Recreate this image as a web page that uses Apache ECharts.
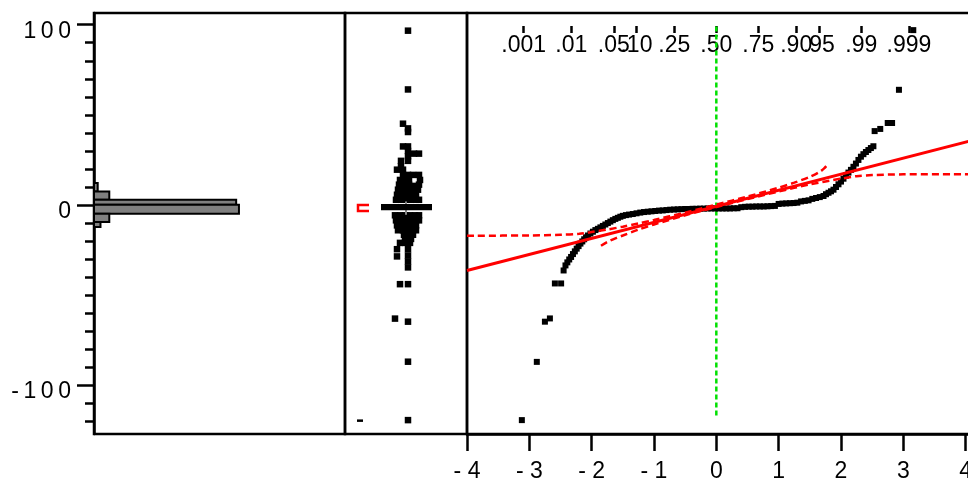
<!DOCTYPE html>
<html><head><meta charset="utf-8">
<script src="https://cdn.jsdelivr.net/npm/echarts@6/dist/echarts.min.js"></script>
<style>html,body{margin:0;padding:0;background:#fff}#c{width:968px;height:478px}#err{position:absolute;left:100px;top:100px;font:11px monospace;color:#00f;white-space:pre;z-index:9}</style>
</head><body><div id="c"></div><div id="err"></div><script>
window.addEventListener('error', e => { document.getElementById('err').textContent = (e.error && e.error.stack) || e.message; });
// ---- axis ranges / ticks ----
const yMin = -127, yMax = 106.5;
const yMajorTicks = [-100, 0, 100];
const yMinorTicks = [-120,-110,-100,-90,-80,-70,-60,-50,-40,-30,-20,-10,0,10,20,30,40,50,60,70,80,90,100];
const zTicks = [-4,-3,-2,-1,0,1,2,3,4];
const probZ = [-3.0902,-2.3263,-1.6449,-1.2816,-0.6745,0,0.6745,1.2816,1.6449,2.3263,3.0902];
const probLabels = ['.001','.01','.05','.10','.25','.50','.75','.90','.95','.99','.999'];

// ---- histogram bins: [low, high, count] ----
const histBins = [
  [7.5, 12.2, 8],
  [2.9, 7.5, 33],
  [0.2, 2.9, 307],
  [-4.8, 0.2, 313],
  [-9.4, -4.8, 33],
  [-12.2, -9.4, 14]
];
const histMax = 542;

// ---- outlier box plot: jittered points [jitter, value] ----
const boxPoints = [
  [2,96.7],[2,64.1],[-3,45.1],[2,42.5],[2,40.5],[-3,32.5],[2,32.5],[2,30],[8,28.5],[13,28.5],
  [2,27],[2,24.5],[-5,24.5],[-5,21.5],[-9,19.6],[-3,19.6],
  [-3,16.7],[2,16.7],[7,16.7],[13,16.7],
  [-6,13.9],[-1,13.9],[3,13.9],[14,13.9],
  [-7,11.3],[-2,11.3],[3,11.3],[8,10.6],[13,11.3],
  [-8,8.5],[-3,8.5],[2,8.5],[7,8.5],[12,8.5],
  [-9,5.7],[-4,5.7],[1,5.7],[6,5.7],[10,5.7],
  [-10,2.9],[-5,2.9],[0,2.9],[5,2.9],[10,2.9],[13,2.9],
  [-11,-5.7],[-6,-5.7],[-1,-5.7],[4,-5.7],[9,-5.7],[13,-5.7],
  [-10,-8.5],[-5,-8.5],[0,-8.5],[5,-8.5],[10,-8.5],[13,-8.5],
  [-9,-11.3],[-4,-11.3],[1,-11.3],[6,-11.3],[10,-11.3],
  [-8,-14],[-3,-14],[2,-14],[7,-14],[10,-14],
  [-2,-16.5],[3,-16.5],[7,-16.5],
  [-1,-18.8],[5,-18.8],
  [-6,-21],[-1,-21],[4,-21],
  [-9,-24.5],[2,-24.5],[-9,-28.5],[2,-28],[2,-31.3],[2,-34.6],
  [-6,-43.9],[2,-43.9],[-11,-63],[2,-64.7],[2,-86.9],[2,-119.3]
];
const extraMark = [[-46,-119.6]];
const boxStats = [[-2.3, 0, -5.4, 2.0]];   // q1, q3, lower whisker, upper whisker
const shortestHalf = [[-3.3, 0]];

// ---- normal quantile plot points [normal quantile, value] ----
const qqPoints = [
  [-3.12,-119.3],[-2.88,-87],[-2.75,-64.7],[-2.67,-62.9],[-2.59,-43.5],[-2.49,-43.5],[-2.45,-36.3],
  [-2.42,-33.5],[-2.39,-31.8],[-2.36,-30.2],[-2.33,-28.8],[-2.30,-27.2],[-2.27,-25.7],[-2.24,-24.2],
  [-2.21,-22.8],[-2.18,-21.4],[-2.15,-20.2],[-2.12,-19.0],[-2.09,-17.9],[-2.06,-16.9],[-2.02,-15.8],
  [-1.98,-14.8],[-1.94,-13.9],[-1.90,-13.2],[-1.86,-12.4],[-1.82,-11.6],[-1.78,-10.8],[-1.74,-10.0],
  [-1.70,-9.2],[-1.66,-8.4],[-1.62,-7.7],[-1.58,-7.1],[-1.54,-6.5],[-1.50,-6.0],[-1.45,-5.6],
  [-1.40,-5.3],[-1.34,-5.0],[-1.28,-4.6],[-1.22,-4.2],[-1.16,-3.9],[-1.10,-3.7],[-1.04,-3.5],
  [-0.98,-3.3],[-0.92,-3.1],[-0.86,-3.0],[-0.80,-2.8],[-0.74,-2.6],[-0.68,-2.5],[-0.62,-2.4],
  [-0.56,-2.3],[-0.50,-2.2],[-0.44,-2.2],[-0.38,-2.1],[-0.32,-2.1],[-0.26,-2.0],[-0.20,-2.0],
  [-0.14,-1.9],[-0.08,-1.9],[-0.02,-1.9],[0.04,-1.9],[0.10,-1.9],[0.16,-1.9],[0.22,-1.9],
  [0.28,-1.8],[0.34,-1.8],[0.40,-1.2],[0.46,-1.0],[0.52,-0.9],[0.58,-0.9],[0.64,-0.8],[0.70,-0.8],
  [0.76,-0.8],[0.82,-0.7],[0.88,-0.6],[0.94,-0.5],[1.00,0.6],[1.06,0.8],[1.12,0.9],[1.18,1.0],
  [1.24,1.1],[1.30,1.3],[1.36,2.0],[1.42,2.3],[1.48,2.6],[1.54,3.4],[1.60,3.9],[1.66,4.4],
  [1.72,5.0],[1.76,6.0],[1.80,6.8],[1.84,7.6],[1.88,8.5],[1.92,10.0],[1.96,11.5],[2.00,13.0],
  [2.04,14.6],[2.08,16.3],[2.12,18.0],[2.16,19.5],[2.20,21.2],[2.24,23.0],[2.28,25.0],[2.32,26.8],
  [2.36,28.2],[2.40,29.4],[2.44,30.5],[2.48,31.6],[2.52,32.6],[2.54,41.0],[2.63,42.2],[2.75,45.5],
  [2.82,45.5],[2.93,63.9],[3.16,97.0]
];
const fitLine = [[-4, -36.3], [4.07, 35.5]];
const upperBand = [[-4,-17.0],[-3,-16.9],[-2.5,-16.5],[-2.2,-16.0],[-2,-15.0],[-1.75,-13.6],[-1.5,-12.0],
  [-1.25,-10.2],[-1,-8.3],[-0.5,-4.2],[0,0.2],[0.5,4.7],[1,9.6],[1.25,12.4],[1.5,15.6],[1.65,18.2],[1.73,20.3],[1.79,22.7]];
const lowerBand = [[-1.85,-22.6],[-1.75,-20.5],[-1.6,-18.2],[-1.5,-16.9],[-1.25,-13.6],[-1,-10.8],[-0.5,-5.7],
  [0,-1.1],[0.5,3.3],[1,7.5],[1.5,11.4],[2,14.6],[2.25,16.0],[2.5,16.6],[3,17.0],[4.07,17.1]];
const medianRef = [[0, 99], [0, -117.5]];

const FONT = '"Liberation Sans", Arial, Helvetica, sans-serif';
const BLACK = '#000';
const labelStyle = {color: BLACK, fontSize: 23, fontFamily: FONT};
const gridBase = {show: true, borderColor: BLACK, borderWidth: 2.5, backgroundColor: 'transparent', outerBoundsMode: 'none', containLabel: false};
const tickLine = {color: BLACK, width: 2.5};

const chart = echarts.init(document.getElementById('c'));
chart.setOption({
  animation: false,
  grid: [
    Object.assign({left: 94, top: 13, width: 251, height: 421}, gridBase),
    Object.assign({left: 345, top: 13, width: 122, height: 421}, gridBase),
    Object.assign({left: 467, top: 13, width: 503, height: 421}, gridBase)
  ],
  xAxis: [
    {gridIndex: 0, type: 'value', min: 0, max: histMax, show: false},
    {gridIndex: 1, type: 'value', min: -61, max: 61, show: false},
    {gridIndex: 2, type: 'value', min: -4, max: 4.07, position: 'bottom',
      axisLine: {show: true, onZero: false, lineStyle: tickLine},
      axisTick: {show: true, length: 17, customValues: zTicks, lineStyle: tickLine},
      axisLabel: Object.assign({customValues: zTicks, margin: 26, formatter: v => v < 0 ? '- ' + (-v) : String(v)}, labelStyle),
      splitLine: {show: false}},
    {gridIndex: 2, type: 'value', min: -4, max: 4.07, position: 'top', offset: -13,
      axisLine: {show: false, onZero: false},
      axisTick: {show: true, inside: true, length: 7, customValues: probZ, lineStyle: tickLine},
      axisLabel: Object.assign({customValues: probZ, inside: true, margin: 8, formatter: v => {
        let best = 0; probZ.forEach((z, i) => { if (Math.abs(z - v) < Math.abs(probZ[best] - v)) best = i; });
        return probLabels[best];
      }}, labelStyle),
      splitLine: {show: false}}
  ],
  yAxis: [
    {gridIndex: 0, type: 'value', min: yMin, max: yMax, position: 'left',
      axisLine: {show: true, onZero: false, lineStyle: tickLine},
      axisTick: {show: true, length: 17, customValues: yMajorTicks, lineStyle: tickLine},
      axisLabel: Object.assign({customValues: yMajorTicks, margin: 23, verticalAlign: 'top', lineHeight: 13,
        formatter: v => String(v).split('').join('\u2009')}, labelStyle),
      splitLine: {show: false}},
    {gridIndex: 0, type: 'value', min: yMin, max: yMax, position: 'left', offset: 0,
      axisLine: {show: false, onZero: false},
      axisTick: {show: true, length: 9, customValues: yMinorTicks, lineStyle: tickLine},
      axisLabel: {show: false}, splitLine: {show: false}},
    {gridIndex: 1, type: 'value', min: yMin, max: yMax, show: false},
    {gridIndex: 2, type: 'value', min: yMin, max: yMax, show: false}
  ],
  series: [
    {type: 'custom', xAxisIndex: 0, yAxisIndex: 0, data: histBins, encode: {x: 2, y: [0, 1]},
      renderItem: (params, api) => {
        const lo = api.value(0), hi = api.value(1), c = api.value(2);
        const p0 = api.coord([0, hi]), p1 = api.coord([c, lo]);
        return {type: 'rect', shape: {x: p0[0], y: p0[1], width: p1[0] - p0[0], height: p1[1] - p0[1]},
          style: {fill: '#808080', stroke: BLACK, lineWidth: 2}};
      }},
    {type: 'custom', xAxisIndex: 1, yAxisIndex: 2, data: boxStats, z: 3,
      renderItem: (params, api) => {
        const q1 = api.value(0), q3 = api.value(1), lw = api.value(2), uw = api.value(3);
        const a = api.coord([-24, q3]), b = api.coord([25, q1]);
        const w1 = api.coord([0, q1]), w2 = api.coord([0, lw]);
        const w3 = api.coord([0, q3]), w4 = api.coord([0, uw]);
        return {type: 'group', children: [
          {type: 'line', shape: {x1: w1[0], y1: w1[1], x2: w2[0], y2: w2[1]}, style: {stroke: '#888', lineWidth: 2}},
          {type: 'line', shape: {x1: w3[0], y1: w3[1], x2: w4[0], y2: w4[1]}, style: {stroke: '#888', lineWidth: 2}},
          {type: 'rect', shape: {x: a[0], y: a[1], width: b[0] - a[0], height: b[1] - a[1]}, style: {fill: BLACK, stroke: BLACK, lineWidth: 2}}
        ]};
      }},
    {type: 'scatter', xAxisIndex: 1, yAxisIndex: 2, data: boxPoints, symbol: 'rect', symbolSize: 6.5,
      itemStyle: {color: BLACK, opacity: 1}, z: 2},
    {type: 'scatter', xAxisIndex: 1, yAxisIndex: 2, data: extraMark, symbol: 'rect', symbolSize: [6, 2.5],
      itemStyle: {color: BLACK, opacity: 1}},
    {type: 'custom', xAxisIndex: 1, yAxisIndex: 2, data: shortestHalf, z: 3,
      renderItem: (params, api) => {
        const lo = api.value(0), hi = api.value(1);
        const a = api.coord([-37, hi]), b = api.coord([-48, hi]), c = api.coord([-48, lo]), d = api.coord([-37, lo]);
        return {type: 'polyline', shape: {points: [a, b, c, d]}, style: {stroke: '#ff0000', lineWidth: 2.5, fill: null}};
      }},
    {type: 'line', xAxisIndex: 2, yAxisIndex: 3, data: medianRef, symbol: 'none', z: 1,
      lineStyle: {color: '#00e000', width: 2.5, type: [5, 3]}},
    {type: 'scatter', xAxisIndex: 2, yAxisIndex: 3, data: qqPoints, symbol: 'rect', symbolSize: 6,
      itemStyle: {color: BLACK, opacity: 1}, z: 2},
    {type: 'line', xAxisIndex: 2, yAxisIndex: 3, data: upperBand, symbol: 'none', smooth: 0.3, z: 3,
      lineStyle: {color: '#ff0000', width: 2.5, type: [7, 4]}},
    {type: 'line', xAxisIndex: 2, yAxisIndex: 3, data: lowerBand, symbol: 'none', smooth: 0.3, z: 3,
      lineStyle: {color: '#ff0000', width: 2.5, type: [7, 4]}},
    {type: 'line', xAxisIndex: 2, yAxisIndex: 3, data: fitLine, symbol: 'none', z: 4,
      lineStyle: {color: '#ff0000', width: 3}}
  ]
});
</script></body></html>
